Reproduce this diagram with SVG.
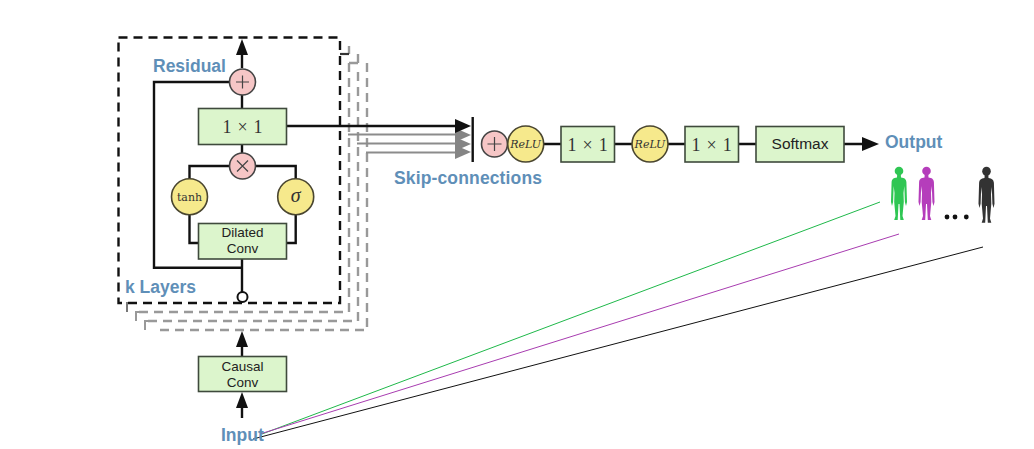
<svg xmlns="http://www.w3.org/2000/svg" width="1034" height="449" viewBox="0 0 1034 449">
<style>
.box{fill:#dcf5cc;stroke:#3f4a3c;stroke-width:1.600}
.pink{fill:#f6c6c6;stroke:#444;stroke-width:1.600}
.yel{fill:#f6e98c;stroke:#4a4630;stroke-width:1.600}
.w{fill:none;stroke:#111;stroke-width:2.400}
.g{fill:none;stroke:#8c8c8c;stroke-width:2.200}
.dash{fill:none;stroke:#111;stroke-width:2.400;stroke-dasharray:9 6}
.gd{fill:none;stroke:#999;stroke-width:2.400;stroke-dasharray:9 6}
.lab{font-family:"Liberation Sans",Arial,sans-serif;font-weight:bold;font-size:17.500px;fill:#5f8fb8}
.sm{font-family:"Liberation Sans",Arial,sans-serif;font-size:13.500px;fill:#222;text-anchor:middle}
.mth{font-family:"Liberation Serif","Times New Roman",serif;fill:#333;text-anchor:middle}
.one{font-size:18px;word-spacing:1.500px}
.rel{font-family:"DejaVu Serif",serif;font-style:italic;font-size:11px;fill:#333;text-anchor:middle}
</style>
<defs>
<g id="person">
<circle cx="0" cy="5" r="4.300"/>
<path d="M-1.800 8H1.800L2 11.500C5.500 12 7 13 7.400 16L8 36L7 40L5.900 36L5.300 20L4.500 27L4.800 36L3.500 50L4.800 54H1.300L0.500 38H-0.500L-1.300 54H-4.800L-3.500 50L-4.800 36L-4.500 27L-5.300 20L-5.900 36L-7 40L-8 36L-7.400 16C-7 13 -5.500 12 -2 11.500Z"/>
</g>
</defs>
<g id="layers-back">
<path d="M349 46V54" fill="none" stroke="#999" stroke-width="2.400"/>
<path d="M340 54H349" fill="none" stroke="#333" stroke-width="2.200"/>
<path class="gd" d="M349 63V312H136"/>
<path d="M127 312V303H133" fill="none" stroke="#777" stroke-width="2"/>
<path d="M349 63H358M358 54V63" fill="none" stroke="#999" stroke-width="2.400"/>
<path class="gd" d="M358 72V321H145"/>
<path d="M136 321V312H142" fill="none" stroke="#999" stroke-width="2"/>
<path class="gd" d="M367 63V330H154"/>
<path d="M145 330V321H151" fill="none" stroke="#999" stroke-width="2"/>
</g>
<g id="connectors">
<path class="w" d="M242 68V55M242 95V108M242 145V153M229 82H154V267.700H242M242 259V292"/>
<path class="w" d="M229 166H189.500V179M256 166H295.700V179M189.500 215V243H198M295.700 215V243H287"/>
<path class="w" d="M287 126H458"/>
<path class="g" d="M348 134.500H456M357 143.500H456M366 152.500H456"/>
<path class="w" d="M472.700 117V162"/>
<path class="w" d="M544 144H561M615 144H632M668 144H685M738 144H756M844 144H864"/>
<path class="w" d="M242 356V346M242 418V406"/>
<path d="M242 39L248 55H236Z" fill="#111"/>
<path d="M242 331L248 347H236Z" fill="#111"/>
<path d="M242 392L248 408H236Z" fill="#111"/>
<path d="M471 135L455 128V142Z" fill="#858585"/>
<path d="M471 144L455 137V151Z" fill="#858585"/>
<path d="M471 152L455 145V159Z" fill="#858585"/>
<path d="M471 126L455 119V133Z" fill="#111"/>
<path d="M879 144L862 137V151Z" fill="#111"/>
<path d="M262 434L880 202" fill="none" stroke="#1fb84a" stroke-width="1"/>
<path d="M260 434L899 234" fill="none" stroke="#a83cb0" stroke-width="1"/>
<path d="M253 439L983 247" fill="none" stroke="#111" stroke-width="1"/>
</g>
<g id="k-layers">
<path class="dash" d="M118.500 37.500H340V303H118.500Z"/>
<text class="lab" x="125" y="293">k Layers</text>
<circle cx="242.500" cy="297" r="5" fill="#fff" stroke="#111" stroke-width="2"/>
</g>
<g id="residual"><text class="lab" x="153" y="72">Residual</text></g>
<g id="add1"><circle class="pink" cx="242.500" cy="82" r="13"/><path d="M236 82H249M242.500 75.500V88.500" stroke="#444" stroke-width="1.200"/></g>
<g id="conv1"><rect class="box" x="198.500" y="108.500" width="88" height="36"/><text class="mth one" x="242.500" y="133">1 × 1</text></g>
<g id="mul"><circle class="pink" cx="242.500" cy="166" r="13"/><path d="M237 160.500L248 171.500M248 160.500L237 171.500" stroke="#444" stroke-width="1.200"/></g>
<g id="tanh"><circle class="yel" cx="189.500" cy="196.700" r="18"/><text class="rel" style="font-style:normal" x="189.500" y="201">tanh</text></g>
<g id="sigma"><circle class="yel" cx="295.700" cy="196.700" r="18"/><text class="mth" x="295.700" y="202" font-size="20" font-style="italic">σ</text></g>
<g id="dilated"><rect class="box" x="198.500" y="223.500" width="88" height="35.500"/><text class="sm" x="242.500" y="237">Dilated</text><text class="sm" x="242.500" y="253">Conv</text></g>
<g id="causal"><rect class="box" x="198.500" y="356.500" width="88" height="35"/><text class="sm" x="242.500" y="371">Causal</text><text class="sm" x="242.500" y="387">Conv</text></g>
<g id="input"><text class="lab" x="221" y="441">Input</text></g>
<g id="skip"><text class="lab" x="394" y="184" textLength="148">Skip-connections</text></g>
<g id="add2"><circle class="pink" cx="494.500" cy="144" r="13"/><path d="M487.500 144H501.500M494.500 137V151" stroke="#444" stroke-width="1.200"/></g>
<g id="relu1"><circle class="yel" cx="525.700" cy="144" r="18"/><text class="rel" x="525.700" y="148">ReLU</text></g>
<g id="conv2"><rect class="box" x="561" y="126.500" width="53.500" height="35.500"/><text class="mth one" x="587.700" y="151">1 × 1</text></g>
<g id="relu2"><circle class="yel" cx="650" cy="144" r="18"/><text class="rel" x="650" y="148">ReLU</text></g>
<g id="conv3"><rect class="box" x="685" y="126.500" width="53.500" height="35.500"/><text class="mth one" x="711.700" y="151">1 × 1</text></g>
<g id="softmax"><rect class="box" x="756" y="126.500" width="88" height="35.500"/><text class="sm" x="800" y="149" style="font-size:15.500px">Softmax</text></g>
<g id="output"><text class="lab" x="885" y="148">Output</text></g>
<g id="people">
<use href="#person" transform="translate(899 166)" fill="#2fc653"/>
<use href="#person" transform="translate(926.500 166)" fill="#b53dbb"/>
<use href="#person" transform="translate(986.500 166) scale(1 1.050)" fill="#333"/>
<circle cx="947" cy="217" r="2.400" fill="#111"/><circle cx="955" cy="217" r="2.400" fill="#111"/><circle cx="966.300" cy="217" r="2.400" fill="#111"/>
</g>
</svg>
